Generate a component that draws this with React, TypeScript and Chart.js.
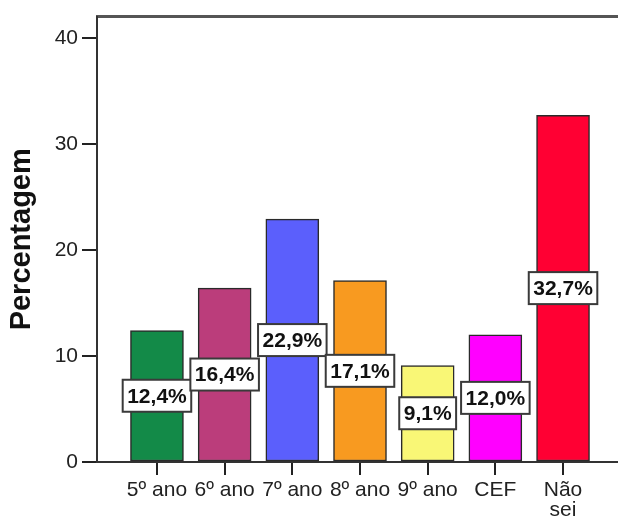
import React, { useEffect, useRef } from "react";
import { Chart, registerables } from "chart.js";

Chart.register(...registerables);

const categories = ["5º ano", "6º ano", "7º ano", "8º ano", "9º ano", "CEF", "Não\nsei"];
const percentages = [12.4, 16.4, 22.9, 17.1, 9.1, 12.0, 32.7];
const barColors = ["#138a48", "#bb3d7b", "#5b5ffc", "#f89a20", "#f9f776", "#ff00ff", "#ff0033"];
const yTicks = [0, 10, 20, 30, 40];
const yTitle = "Percentagem";

const FONT = "'Liberation Sans', Arial, sans-serif";

const labelPlugin = {
  id: "boxLabels",
  afterDatasetsDraw(chart: any) {
    const ctx = chart.ctx;
    const meta = chart.getDatasetMeta(0);
    ctx.save();
    ctx.font = `bold 21px ${FONT}`;
    ctx.textAlign = "center";
    ctx.textBaseline = "middle";
    meta.data.forEach((bar: any, i: number) => {
      const v = percentages[i];
      const text = v.toFixed(1).replace(".", ",") + "%";
      const cx = bar.x;
      const cy = (bar.y + bar.base) / 2;
      const w = ctx.measureText(text).width + 9;
      const h = 32;
      ctx.fillStyle = "#ffffff";
      ctx.fillRect(cx - w / 2, cy - h / 2, w, h);
      ctx.lineWidth = 2;
      ctx.strokeStyle = "#3a3a3a";
      ctx.strokeRect(cx - w / 2, cy - h / 2, w, h);
      ctx.fillStyle = "#111111";
      ctx.fillText(text, cx, cy + 1);
    });
    ctx.restore();
  },
};

export default function App() {
  const ref = useRef<HTMLCanvasElement>(null);
  useEffect(() => {
    if (!ref.current) return;
    const chart = new Chart(ref.current, {
      type: "bar",
      data: {
        datasets: [
          {
            data: percentages.map((v, i) => ({ x: i, y: v })),
            backgroundColor: barColors,
            borderColor: "#2a2a2a",
            borderWidth: 1.5,
            borderSkipped: false,
            barThickness: 53,
          },
        ],
      },
      options: {
        responsive: false,
        animation: false,
        devicePixelRatio: 1,
        layout: { padding: { top: 15, left: 0, right: 0, bottom: 0 } },
        plugins: { legend: { display: false }, tooltip: { enabled: false } },
        scales: {
          x: {
            type: "linear",
            position: "bottom",
            offset: false,
            min: -0.886,
            max: 6.886,
            afterBuildTicks: (scale: any) => {
              scale.ticks = categories.map((_, i) => ({ value: i }));
            },
            afterFit: (scale: any) => {
              scale.height = 540 - 462;
            },
            grid: {
              display: true,
              offset: false,
              drawOnChartArea: false,
              tickLength: 13,
              color: "#222",
              lineWidth: 2,
            },
            border: { display: true, color: "#333", width: 2 },
            ticks: {
              autoSkip: false,
              maxRotation: 0,
              minRotation: 0,
              padding: 5,
              color: "#222",
              font: { family: FONT, size: 21, lineHeight: 0.95 },
              callback: (value: any) => {
                const lbl = categories[value as number];
                return lbl ? lbl.split("\n") : "";
              },
            },
          },
          xTop: {
            type: "linear",
            position: "top",
            offset: false,
            min: -0.886,
            max: 6.886,
            afterFit: (scale: any) => {
              scale.height = 0;
            },
            grid: { display: false, drawTicks: false, offset: false },
            border: { display: true, color: "#555", width: 3 },
            ticks: { display: false },
          },
          y: {
            type: "linear",
            min: 0,
            max: 42,
            afterBuildTicks: (scale: any) => {
              scale.ticks = yTicks.map((v) => ({ value: v }));
            },
            afterFit: (scale: any) => {
              scale.width = 97;
            },
            grid: {
              display: true,
              drawOnChartArea: false,
              tickLength: 15,
              color: "#222",
              lineWidth: 2,
            },
            border: { display: true, color: "#333", width: 2 },
            ticks: {
              padding: 4,
              color: "#222",
              font: { family: FONT, size: 21 },
            },
            title: {
              display: true,
              text: yTitle,
              color: "#111",
              font: { family: FONT, size: 29, weight: "bold" },
              padding: { top: 5, bottom: 0 },
            },
          },
        },
      },
      plugins: [labelPlugin],
    } as any);
    return () => chart.destroy();
  }, []);
  return (
    <div
      style={{
        position: "fixed",
        left: 0,
        top: 0,
        width: 618,
        height: 517,
        overflow: "hidden",
        background: "#fff",
      }}
    >
      <canvas ref={ref} width={623} height={540} style={{ display: "block" }} />
    </div>
  );
}
